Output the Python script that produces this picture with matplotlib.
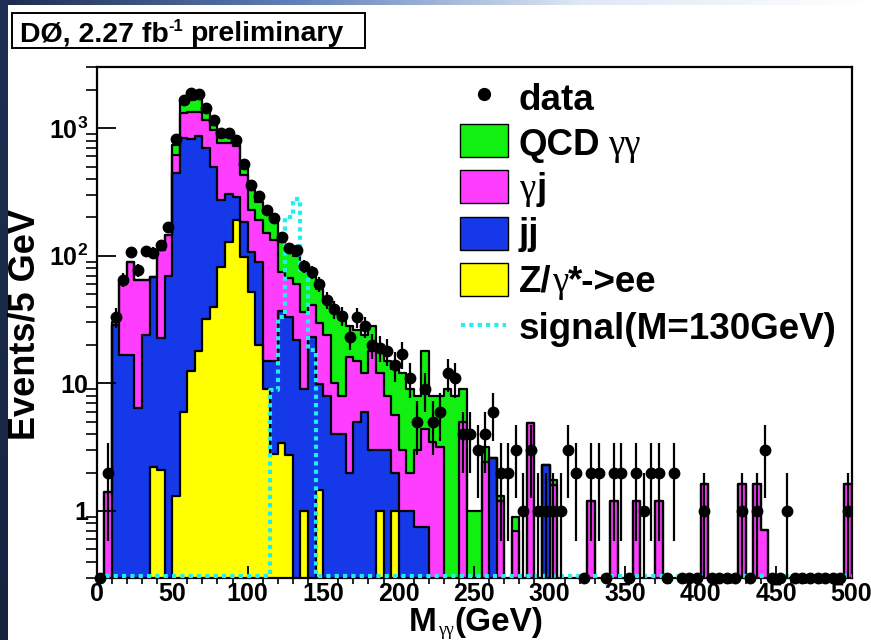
import numpy as np
import matplotlib
matplotlib.use('Agg')
import matplotlib.pyplot as plt
from matplotlib.transforms import IdentityTransform
from matplotlib.patches import Rectangle
from matplotlib.lines import Line2D
from matplotlib.ticker import FixedLocator, MultipleLocator, LogLocator, NullFormatter

plt.rcParams['font.family'] = ['Liberation Sans', 'DejaVu Sans']
plt.rcParams['font.weight'] = 'bold'
plt.rcParams['mathtext.fontset'] = 'custom'
plt.rcParams['mathtext.rm'] = 'Liberation Sans:bold'
plt.rcParams['mathtext.bf'] = 'Liberation Sans:bold'

W, H = 871, 640
edges = np.arange(0, 505, 5)
centers = edges[:-1] + 2.5

# events per 5 GeV bin
data = [0, 2, 33, 65, 107, 77, 108, 106, 121, 169,
        818, 1663, 1877, 1846, 1448, 1159, 922, 914, 808, 521,
        359, 294, 229, 199, 141, 115, 110, 83, 74, 60,
        45, 38, 34, 23, 33, 28, 20, 19, 18, 14,
        17, 11, 5, 9, 5, 6, 12, 11, 4, 4,
        3, 4, 6, 2, 2, 3, 1, 3, 1, 1,
        1, 1, 3, 2, 0, 2, 2, 0, 2, 2,
        0, 2, 1, 2, 2, 0, 2, 0, 0, 0,
        1, 0, 0, 0, 0, 1, 0, 1, 3, 0,
        0, 1, 0, 0, 0, 0, 0, 0, 0, 1]

zee = [0, 0, 0, 0, 0, 0, 0, 2.2, 2.1, 0,
       1.3, 6, 12.4, 18, 32, 40, 82, 129, 191, 98,
       52, 20, 9, 2.8, 3.4, 2.75, 0, 1.0, 0, 1.46,
       0, 0, 0, 0, 0, 0, 0, 1, 0, 1] + [0] * 60

jj = [0, 0, 28.7, 16.7, 16.7, 6.4, 24, 66.4, 20.5, 70,
      442, 837, 806, 851, 663, 459, 191, 174, 99, 87,
      55, 70, 6, 12.2, 33.6, 30.3, 22, 8, 23, 8.5,
      8, 4, 4, 2, 5, 6, 3, 2, 3, 1,
      1, 1, 0.75, 0.75, 0, 0, 0, 0, 0, 0,
      0, 0, 2.6, 0, 0, 0, 0, 0, 0, 2.3] + [0] * 40

gj = [0, 1.4, 0, 44, 72, 57.6, 40, 0, 87.4, 76,
      174, 466, 531, 480, 464, 469, 489, 459, 436, 245,
      122, 101, 135, 118, 38, 34, 38, 27, 18, 20,
      16, 6, 4, 14, 10, 6, 15, 9, 5, 3.6,
      2, 1, 2.25, 3.65, 3.5, 3.2, 0, 0, 5, 0,
      0, 2.4, 0, 1.2, 0, 0.7, 0, 4.9, 0, 0,
      1.6, 0, 0, 0, 0, 1.2, 0, 0, 1.2, 0,
      0, 1.2, 0, 0, 1.2, 0, 0, 0, 0, 0,
      1.62, 0, 0, 0, 0, 1.62, 0, 1.62, 0.71, 0,
      0, 0, 0, 0, 0, 0, 0, 0, 0, 1.62]

gg = [0, 0, 1.3, 0, 0, 0, 0, 0, 0, 0,
      121, 258, 314, 334, 231, 91, 83, 83, 57, 90,
      99, 74, 65, 58, 54, 43, 40, 49, 31, 25,
      21, 27, 25, 12, 11, 12, 10, 6, 7, 7.4,
      9, 7, 5, 13.6, 4.5, 4.8, 9, 8, 4, 1,
      1, 0.8, 0, 0.1, 0, 0.2, 0, 0, 0, 0,
      0.15] + [0] * 39

signal = [0] * 23 + [8.9, 33, 200, 280, 77, 18.3] + [0] * 71

YMIN, YMAX = 0.3, 3030

fig = plt.figure(figsize=(W / 100, H / 100), dpi=100)

# slide border strips
bg = fig.add_axes([0, 1 - 5 / H, 1, 5 / H])
bg.imshow(np.linspace(0, 1, 256)[None, :], aspect='auto', cmap=matplotlib.colors.LinearSegmentedColormap.from_list('s', ['#1b2b4d', '#5f7fb8', '#dfe8f5', '#ffffff']))
bg.axis('off')
lb = fig.add_axes([0, 0, 7 / W, 1])
lb.imshow(np.linspace(0, 1, 64)[:, None], aspect='auto', cmap=matplotlib.colors.LinearSegmentedColormap.from_list('l', ['#1d2f52', '#16243f']))
lb.axis('off')

ax = fig.add_axes([96.7 / W, 1 - 577.7 / H, (851.5 - 96.7) / W, (577.7 - 66.7) / H])
ax.set_yscale('log')

lev_y = np.array(zee)
lev_b = lev_y + np.array(jj)
lev_m = lev_b + np.array(gj)
lev_g = lev_m + np.array(gg)


def outline(vals, floor):
    v = np.where(vals > 0, vals, floor)
    xs = np.repeat(edges, 2)
    ys = np.concatenate([[floor], np.repeat(v, 2), [floor]])
    return xs, ys


for lev, col in [(lev_g, '#11f011'), (lev_m, '#ff3dff'), (lev_b, '#1538e8'), (lev_y, '#ffff00')]:
    xs, ys = outline(lev, 1e-3)
    ax.fill_between(xs, ys, 1e-3, color=col, lw=0)
    ax.plot(xs, ys, color='k', lw=1.6)

xs, ys = outline(np.array(signal, float), 0.31)
ax.plot(xs, ys, color='#22eeee', lw=3, ls=(0, (1.0, 1.0)), clip_on=False, zorder=4)

d = np.array(data, float)
err = np.sqrt(d)
nz = d > 0
ax.vlines(centers[nz], np.maximum(d[nz] - err[nz], 1e-3), d[nz] + err[nz], color='k', lw=1.6, zorder=5)
ax.plot(centers[nz], d[nz], 'o', color='k', ms=7.5, zorder=6)
ax.plot(centers[~nz], np.full((~nz).sum(), YMIN), 'o', color='k', ms=7.5, zorder=6, clip_on=False)

ax.set_xlim(0, 500)
ax.set_ylim(YMIN, YMAX)
ax.xaxis.set_major_locator(MultipleLocator(50))
ax.xaxis.set_minor_locator(MultipleLocator(10))
ax.yaxis.set_major_locator(FixedLocator([1, 10, 100, 1000]))
ax.yaxis.set_minor_locator(LogLocator(subs=np.arange(2, 10)))
ax.yaxis.set_minor_formatter(NullFormatter())
ax.set_yticklabels(['1', '10', r'$\mathbf{10^{2}}$', r'$\mathbf{10^{3}}$'])
ax.tick_params(axis='both', direction='in', labelsize=18, width=1.3)
ax.tick_params(axis='y', which='major', length=14, pad=6)
ax.tick_params(axis='y', which='minor', length=8, width=1.2)
ax.tick_params(axis='x', which='major', length=9, pad=3)
ax.tick_params(axis='x', which='minor', length=4.5, width=1.2)
for lab in ax.get_xticklabels() + ax.get_yticklabels():
    lab.set_fontweight('bold')
for sp in ax.spines.values():
    sp.set_linewidth(1.6)

idt = IdentityTransform()
rend = fig.canvas.get_renderer()


def rich(x, y, parts, center=False):
    # x, y in pixels from the top left; y is the baseline
    arts = []
    cx = x
    for s, kw in parts:
        kw = dict(kw)
        dy = kw.pop('dy', 0)
        gap = kw.pop('gap', 0)
        cx += gap
        t = fig.text(cx, H - y + dy, s, transform=idt, va='baseline', **kw)
        cx = t.get_window_extent(rend).x1
        arts.append(t)
    if center:
        shift = (cx - x) / 2
        for t in arts:
            t.set_x(t.get_position()[0] - shift)


SANS = dict(family='Liberation Sans', weight='bold')
SERIF = dict(family='Liberation Serif', weight='normal')

# title box
fig.patches.append(Rectangle((12, H - 48), 353, 35, transform=idt, fill=False, lw=1.4, ec='k'))
rich(20, 41, [('DØ, 2.27 fb', dict(SANS, size=20.5)),
              ('-1', dict(SANS, size=12, dy=10)),
              ('preliminary', dict(SANS, size=20.5, gap=7))])

# axis titles
fig.text(25, H - 325, 'Events/5 GeV', transform=idt, rotation=90, ha='center', va='center', size=26, **SANS)
rich(476, 631, [('M', dict(SANS, size=24)),
                ('γγ', dict(SERIF, size=13, dy=-4, gap=1)),
                ('(GeV)', dict(SANS, size=24, gap=1))], center=True)

# legend
LS = 26.5
fig.lines.append(Line2D([483.5], [H - 94], marker='o', color='k', ms=8.5, transform=idt))
rows = [('#11f011', 140), ('#ff3dff', 186.5), ('#1538e8', 233), ('#ffff00', 279)]
for col, yc in rows:
    fig.patches.append(Rectangle((460, H - yc - 16.5), 48, 33, transform=idt, fc=col, ec='k', lw=1))
fig.lines.append(Line2D([461, 506], [H - 325, H - 325], color='#22eeee', lw=3, ls=(0, (1.0, 1.0)), transform=idt))
rich(519, 110, [('data', dict(SANS, size=LS))])
rich(519, 155, [('QCD', dict(SANS, size=LS)), ('γγ', dict(SERIF, size=LS, gap=8))])
rich(519, 199, [('γ', dict(SERIF, size=LS)), ('j', dict(SANS, size=LS, gap=1))])
rich(519, 244, [('jj', dict(SANS, size=LS))])
rich(519, 292, [('Z/', dict(SANS, size=LS)), ('γ', dict(SERIF, size=LS)), ('*->ee', dict(SANS, size=LS))])
rich(519, 339, [('signal(M=130GeV)', dict(SANS, size=LS))])

fig.savefig('out.png', dpi=100)
